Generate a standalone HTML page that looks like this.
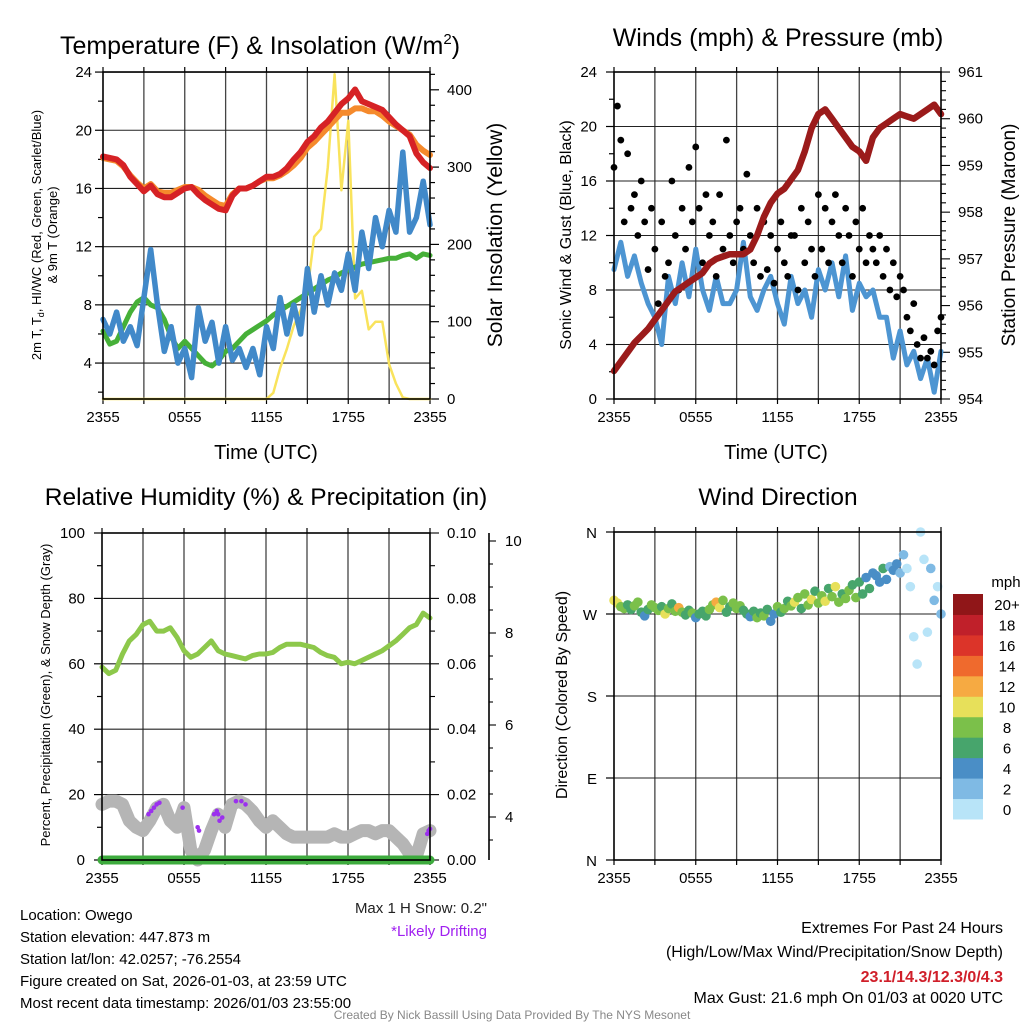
<!DOCTYPE html>
<html><head><meta charset="utf-8">
<style>
html,body{margin:0;padding:0;background:#fff;}
svg{display:block;font-family:"Liberation Sans",sans-serif;}
</style></head>
<body>
<svg id="c" width="1024" height="1024" viewBox="0 0 1024 1024" xmlns="http://www.w3.org/2000/svg"></svg>
<script>
// ---------- DATA ----------
const xTickLabels = ["2355","0555","1155","1755","2355"];
const tempRed = [18.2,18.1,18.0,17.6,16.8,16.3,15.8,16.2,15.6,15.4,15.4,15.7,16.0,16.1,15.6,15.2,14.9,14.6,14.5,15.5,16.0,16.0,16.2,16.5,16.8,16.8,17.0,17.4,18.0,18.5,19.2,19.6,20.2,20.6,21.2,21.8,22.2,22.8,22.0,21.8,21.6,21.4,20.9,20.4,20.0,19.6,18.4,17.8,17.4];
const tempOrange = [18.1,18.0,17.9,17.5,16.9,16.4,16.0,16.3,15.8,15.7,15.7,15.9,16.1,16.1,15.9,15.5,15.2,14.9,14.8,15.6,16.0,16.0,16.2,16.5,16.7,16.7,16.9,17.2,17.6,18.1,18.8,19.2,19.7,20.2,20.7,21.2,21.2,21.5,21.5,21.3,21.3,21.0,20.6,20.3,20.0,19.7,19.0,18.6,18.3];
const dewGreen = [6.2,5.3,5.5,6.5,7.5,8.2,8.5,8.0,7.8,7.0,5.8,5.0,5.5,5.0,4.5,4.0,3.8,4.2,4.8,5.0,5.5,6.0,6.3,6.6,6.9,7.3,7.6,7.9,8.2,8.5,8.8,9.1,9.4,9.7,9.9,10.2,10.4,10.6,10.8,10.9,11.0,11.1,11.2,11.2,11.4,11.5,11.2,11.5,11.4];
const chillBlue = [7.0,6.0,7.5,5.5,6.5,5.2,8.5,11.8,8.0,4.8,6.5,4.0,5.0,3.0,7.8,5.5,6.8,4.0,6.5,4.2,5.0,3.7,5.0,3.2,6.5,5.0,8.5,6.0,8.0,6.0,10.5,7.5,10.0,8.0,10.2,9.0,11.5,9.0,13.0,10.5,14.0,12.0,14.5,13.0,18.5,13.0,14.0,16.5,13.5];
const solar = [0,0,0,0,0,0,0,0,0,0,0,0,0,0,0,0,0,0,0,0,0,0,0,0,0,8,40,65,95,115,140,210,220,300,420,270,360,130,140,90,100,100,45,20,2,0,0,0,0];
const windSpeed = [9.5,11.5,9.0,10.5,8.5,7.0,6.0,4.0,9.0,7.0,10.0,7.5,11.0,8.0,6.5,9.0,7.0,7.0,8.0,11.5,7.5,6.5,8.0,9.0,7.0,5.5,9.0,7.0,8.0,6.0,9.5,8.0,10.0,7.5,10.5,6.5,8.5,7.5,8.0,6.0,6.0,3.0,5.0,2.5,3.5,1.5,3.0,0.5,3.5];
const pressure = [954.6,954.8,955.0,955.2,955.35,955.5,955.7,955.9,956.1,956.3,956.4,956.5,956.6,956.7,956.9,957.0,957.05,957.1,957.1,957.1,957.2,957.5,957.9,958.2,958.4,958.5,958.7,958.9,959.3,959.8,960.1,960.2,960.0,959.8,959.6,959.4,959.3,959.1,959.6,959.8,959.9,960.0,960.1,960.05,960.0,960.1,960.2,960.3,960.1];
const gusts = [17,21.5,19,13,18, 14,15,12,16,13,9.5,14,11, 7,13,9,10,16,12,8,14, 11,17,13,18.5,14,10,15,12, 13,9,15,11,19,12,10,13, 14,11,16.5,12,10,14,9,13, 9.5,12,8.5,11,13,10,9,12, 12,8,14,10,13,11,9,15, 11,14,10,13,15,12,10,14, 12,9,13,11,14,10,12,11, 10,12,9,11,8,10,7.5,9, 8,6,5,7, 4,3,4.5,3, 3.5,2.5,5,6];
const windDir = [285,282,278,276,280, 275,279,283,272,268,275,280,277, 274,278,270,276,281,273,277,272, 269,274,271,266,270,273,268,275, 280,283,277,285,272,278,282,276, 279,274,270,267,273,266,271,268, 275,262,270,278,272,276,284,279, 283,288,276,292,280,286,295,282, 290,284,298,289,300,283,292,287, 296,302,288,305,292,310,298,315, 312,305,320,308,322,318,325,315, 335,320,300,245, 215,360,330,250, 320,285,300,270];
const dirSpeed = [10,11,9,8,7, 7,8,9,6,4,7,8,9, 8,7,10,9,6,8,12,9, 6,7,8,5,6,7,6,8, 9,12,10,8,7,6,8,9, 8,7,6,5,7,8,6,9, 7,4,5,8,6,9,7,8, 10,8,7,9,8,10,7,9, 8,10,7,9,11,8,6,9, 8,7,9,6,7,5,6,4, 5,4,6,4,3,5,4,3, 2,1,1,0.5, 0.5,0,1,0.5, 3,3,1,3];
const rhGreen = [59,57,58,63,67,69,72,73,70,70,71,68,64,62,63,65,67,64,63,62.5,62,61.5,62.5,63,63,63.5,65,66,66,66,65.5,65,63.5,62.5,62,60,60.5,60,61,62,63,64,65.5,67,69,71,72,75.5,74];
const snowGray = [17,18,18,17,12,10,9,12,16,17,12,10,16,3,0,3,9,14,10,17,18,17,15,12,10,12,10,8,7,7,7,7,7,7,8,7,7,8,9,9,8,9,9,7,5,2,1,8,9];
const precip = [0,0,0,0,0,0,0,0,0,0,0,0,0,0,0,0,0,0,0,0,0,0,0,0,0,0,0,0,0,0,0,0,0,0,0,0,0,0,0,0,0,0,0,0,0,0,0,0,0];
const driftHours = [3.4,3.6,3.8,4.0,4.2,5.9,7.0,7.1,8.2,8.4,8.5,8.6,8.8,9.8,10.2,10.5,23.8,23.9,24];
const driftVals = [14,15,16,17,17.5,16,10,9,14,15,14,12,13,18,18,17,8,9,9.5];
const speedBins = ["0","2","4","6","8","10","12","14","16","18","20+"];
const speedColors = ["#b8e4f8","#7fbae4","#4a8ec6","#47a56c","#7bc04a","#e7e05a","#f6aa42","#ef6a2d","#dc3429","#c0202a","#901618"];

// ---------- HELPERS ----------
const S = document.getElementById('c');
const NS = "http://www.w3.org/2000/svg";
function el(tag, attrs, parent){
  const e = document.createElementNS(NS, tag);
  for (const k in attrs) e.setAttribute(k, attrs[k]);
  (parent||S).appendChild(e);
  return e;
}
function txt(str, x, y, size, anchor, parent, extra){
  const a = {x:x, y:y, 'font-size':size, 'text-anchor':anchor||'middle', fill:'#000'};
  if (extra) for (const k in extra) a[k]=extra[k];
  const t = el('text', a, parent);
  t.textContent = str;
  return t;
}
function polyline(xs, ys, color, w, name){
  let d = '';
  for (let i=0;i<xs.length;i++) d += (i?'L':'M') + xs[i].toFixed(1) + ' ' + ys[i].toFixed(1);
  const p = el('path', {d:d, fill:'none', stroke:color, 'stroke-width':w, 'stroke-linejoin':'round', 'stroke-linecap':'round'});
  
  
  return p;
}
function frame(L,R,T,B,yTicks,yFn,name){
  const g = el('g',{});
  
  
  for (let k=1;k<8;k++){
    const x = L + k*(R-L)/8;
    el('line',{x1:x,y1:T,x2:x,y2:B,stroke:'#444','stroke-width':1.3},g);
  }
  yTicks.forEach(v=>{ const y=yFn(v); el('line',{x1:L,y1:y,x2:R,y2:y,stroke:'#222','stroke-width':1.1},g); });
  for (let k=0;k<=8;k++){
    const x = L + k*(R-L)/8;
    el('line',{x1:x,y1:B,x2:x,y2:B+5,stroke:'#000','stroke-width':1.2},g);
    el('line',{x1:x,y1:T,x2:x,y2:T-5,stroke:'#000','stroke-width':1.2},g);
  }
  xTickLabels.forEach((s,i)=>{
    const t = txt(s, L + i*(R-L)/4, B+23, 15, 'middle', g);
    
    
  });
  return g;
}
function border(L,R,T,B){
  el('rect',{x:L,y:T,width:R-L,height:B-T,fill:'none',stroke:'#000','stroke-width':1.6});
}
const hx = (L,R)=> h => L + h/24*(R-L);

// ---------- PANEL 1 ----------
(function(){
  const L=103,R=430,T=72,B=399;
  const x = hx(L,R);
  const y = v => 399-(v-1.53)*14.55;
  const yr = v => 399-v*0.773;
  const yt = [4,8,12,16,20,24];
  frame(L,R,T,B,yt,y,'temperature-panel-grid');
  for (let v=2; v<=24; v+=2){ el('line',{x1:L-(v%4?5:8),y1:y(v),x2:L,y2:y(v),stroke:'#000','stroke-width':1.2}); }
  yt.forEach(v=>{ const t=txt(String(v),L-11,y(v)+5,15,'end');   });
  for (let v=0; v<=420; v+=20){ el('line',{x1:R,y1:yr(v),x2:R+(v%100?5:9),y2:yr(v),stroke:'#000','stroke-width':1.2}); }
  [0,100,200,300,400].forEach(v=>{ const t=txt(String(v),R+17,yr(v)+5,15,'start');   });
  const hs = solar.map((_,i)=>i/2);
  polyline(hs.map(x), solar.map(yr), '#f9e35c', 2.5, 'solar-insolation-line');
  polyline(hs.map(x), dewGreen.map(y), '#46b038', 5, 'dewpoint-line');
  polyline(hs.map(x), chillBlue.map(y), '#4189c9', 5.5, 'windchill-line');
  polyline(hs.map(x), tempOrange.map(y), '#f58a2c', 6, 'temp-9m-line');
  polyline(hs.map(x), tempRed.map(y), '#d62225', 6, 'temp-2m-line');
  border(L,R,T,B);
  const t1 = txt('Temperature (F) & Insolation (W/m', 260, 54, 25, 'middle');
  
  
  const sup = el('tspan',{dy:-10,'font-size':15},t1); sup.textContent='2';
  const cl = el('tspan',{dy:10},t1); cl.textContent=')';
  const xt = txt('Time (UTC)', 266, 459, 20, 'middle');  
  const g = el('g',{transform:'translate(44,235) rotate(-90)'});
   
  const a = txt('2m T, T', 0, -3, 13, 'middle', g);
  const sub = el('tspan',{dy:3,'font-size':9},a); sub.textContent='d';
  const rest = el('tspan',{dy:-3},a); rest.textContent=', HI/WC (Red, Green, Scarlet/Blue)';
  txt('& 9m T (Orange)', 0, 13, 13, 'middle', g);
  const rt = txt('Solar Insolation (Yellow)', 0, 0, 21, 'middle', null, {transform:'translate(502,235) rotate(-90)'});
   
})();

// ---------- PANEL 2 ----------
(function(){
  const L=614,R=941,T=72,B=399;
  const x = hx(L,R);
  const y = v => 399-v*13.625;
  const yp = p => 399-(p-954)*46.71;
  const yt=[0,4,8,12,16,20,24];
  frame(L,R,T,B,yt,y,'wind-panel-grid');
  for (let v=0; v<=24; v+=2){ el('line',{x1:L-(v%4?5:8),y1:y(v),x2:L,y2:y(v),stroke:'#000','stroke-width':1.2}); }
  yt.forEach(v=>{ const t=txt(String(v),L-17,y(v)+5,15,'end');   });
  for (let p=954; p<=961.001; p+=0.2){ el('line',{x1:R,y1:yp(p),x2:R+(Math.abs(p-Math.round(p))<0.01?9:5),y2:yp(p),stroke:'#000','stroke-width':1.1}); }
  [954,955,956,957,958,959,960,961].forEach(v=>{ const t=txt(String(v),R+17,yp(v)+5,15,'start');   });
  const hs = windSpeed.map((_,i)=>i/2);
  polyline(hs.map(x), windSpeed.map(y), '#4d95d2', 5, 'sonic-wind-line');
  gusts.forEach((v,i)=>{
    const c = el('circle',{cx:x(i/4),cy:y(v),r:3.4,fill:'#000'});
    
    
  });
  polyline(hs.map(x), pressure.map(yp), '#9b1b1b', 6.5, 'pressure-line');
  border(L,R,T,B);
  const t=txt('Winds (mph) & Pressure (mb)', 778, 46, 25);  
  const xt=txt('Time (UTC)', 776, 459, 20);  
  const lt=txt('Sonic Wind & Gust (Blue, Black)',0,0,16,'middle',null,{transform:'translate(571,235) rotate(-90)'});  
  const rt=txt('Station Pressure (Maroon)',0,0,19,'middle',null,{transform:'translate(1015,235) rotate(-90)'});  
})();

// ---------- PANEL 3 ----------
(function(){
  const L=102,R=430,T=533,B=860;
  const x = hx(L,R);
  const y = v => 860-v*3.27;
  const yr = p => 860-p*3270;
  const y3 = v => 541+(10-v)*46;
  const yt=[0,20,40,60,80,100];
  frame(L,R,T,B,yt,y,'humidity-panel-grid');
  for (let v=0; v<=100; v+=10){ el('line',{x1:L-(v%20?5:8),y1:y(v),x2:L,y2:y(v),stroke:'#000','stroke-width':1.2}); }
  yt.forEach(v=>{ const t=txt(String(v),L-17,y(v)+5,15,'end');   });
  for (let k=0;k<=10;k++){ el('line',{x1:R,y1:yr(k/100),x2:R+(k%2?5:9),y2:yr(k/100),stroke:'#000','stroke-width':1.1}); }
  ['0.00','0.02','0.04','0.06','0.08','0.10'].forEach((s,i)=>{ const t=txt(s,R+17,yr(i*0.02)+5,15,'start');   });
  el('line',{x1:489,y1:533,x2:489,y2:860,stroke:'#000','stroke-width':1.6});
  for (let v=3.5; v<=10.01; v+=0.5){ el('line',{x1:489,y1:y3(v),x2:489+(Math.abs(v-Math.round(v/2)*2)<0.01?7:4),y2:y3(v),stroke:'#000','stroke-width':1.1}); }
  [4,6,8,10].forEach(v=>{ const t=txt(String(v),505,y3(v)+5,15,'start');   });
  const hs = rhGreen.map((_,i)=>i/2);
  polyline(hs.map(x), snowGray.map(y), '#b5b5b5', 13, 'snow-depth-line');
  driftHours.forEach((h,i)=>{
    const c = el('circle',{cx:x(h),cy:y(driftVals[i]),r:2.3,fill:'#9b30ee'});
    
    
  });
  polyline(hs.map(x), rhGreen.map(y), '#8dc84b', 5, 'humidity-line');
  polyline(hs.map(x), precip.map(yr), '#3dab3d', 9, 'precip-line');
  border(L,R,T,B);
  const t=txt('Relative Humidity (%) & Precipitation (in)', 266, 505, 24.5);  
  const lt=txt('Percent, Precipitation (Green), & Snow Depth (Gray)',0,0,13,'middle',null,{transform:'translate(50,695) rotate(-90)'});  
  const a=txt('Max 1 H Snow: 0.2"', 487, 913, 15, 'end', null, {fill:'#222'});  
  const b=txt('*Likely Drifting', 487, 936, 15, 'end', null, {fill:'#a020f0'});  
})();

// ---------- PANEL 4 ----------
(function(){
  const L=614,R=941,T=532,B=860;
  const x = hx(L,R);
  const y = d => 860-d/360*328;
  const yt=[0,90,180,270,360];
  frame(L,R,T,B,yt,y,'direction-panel-grid');
  yt.forEach(v=>{ el('line',{x1:L-8,y1:y(v),x2:L,y2:y(v),stroke:'#000','stroke-width':1.2}); });
  ['N','E','S','W','N'].forEach((s,i)=>{ const t=txt(s,597,y(yt[i])+6,15,'end');   });
  function colorFor(s){ let k=Math.floor(s/2); if(k>10)k=10; if(k<0)k=0; return speedColors[k]; }
  windDir.forEach((d,i)=>{
    const c = el('circle',{cx:x(i/4),cy:y(d),r:4.8,fill:colorFor(dirSpeed[i])});
    
    
  });
  border(L,R,T,B);
  const t=txt('Wind Direction', 778, 505, 24.5);  
  const lt=txt('Direction (Colored By Speed)',0,0,16,'middle',null,{transform:'translate(567,695) rotate(-90)'});  
  const cbT=594, cbH=225/11;
  const g = el('g',{});
  
  
  speedBins.forEach((lab,i)=>{
    const yy = cbT + (10-i)*cbH;
    el('rect',{x:953,y:yy,width:30,height:cbH+0.5,fill:speedColors[i]},g);
    txt(lab, 1007, yy+cbH/2+6, 15, 'middle', g);
  });
  txt('mph', 1006, 587, 15, 'middle', g);
})();

// ---------- TEXT ----------
(function(){
  const info = ['Location: Owego','Station elevation: 447.873 m','Station lat/lon: 42.0257; -76.2554','Figure created on Sat, 2026-01-03, at 23:59 UTC','Most recent data timestamp: 2026/01/03 23:55:00'];
  info.forEach((s,i)=>{ const t=txt(s,20,920+i*22,15,'start');   });
  const e1=txt('Extremes For Past 24 Hours',1003,933,16,'end');  
  const e2=txt('(High/Low/Max Wind/Precipitation/Snow Depth)',1003,957,16,'end');  
  const e3=txt('23.1/14.3/12.3/0/4.3',1003,982,16,'end',null,{fill:'#d01f2a','font-weight':'bold'});  
  const e4=txt('Max Gust: 21.6 mph On 01/03 at 0020 UTC',1003,1003,16,'end');  
  const f=txt('Created By Nick Bassill Using Data Provided By The NYS Mesonet',512,1019,12,'middle',null,{fill:'#888'});  
})();
</script>
</body></html>
